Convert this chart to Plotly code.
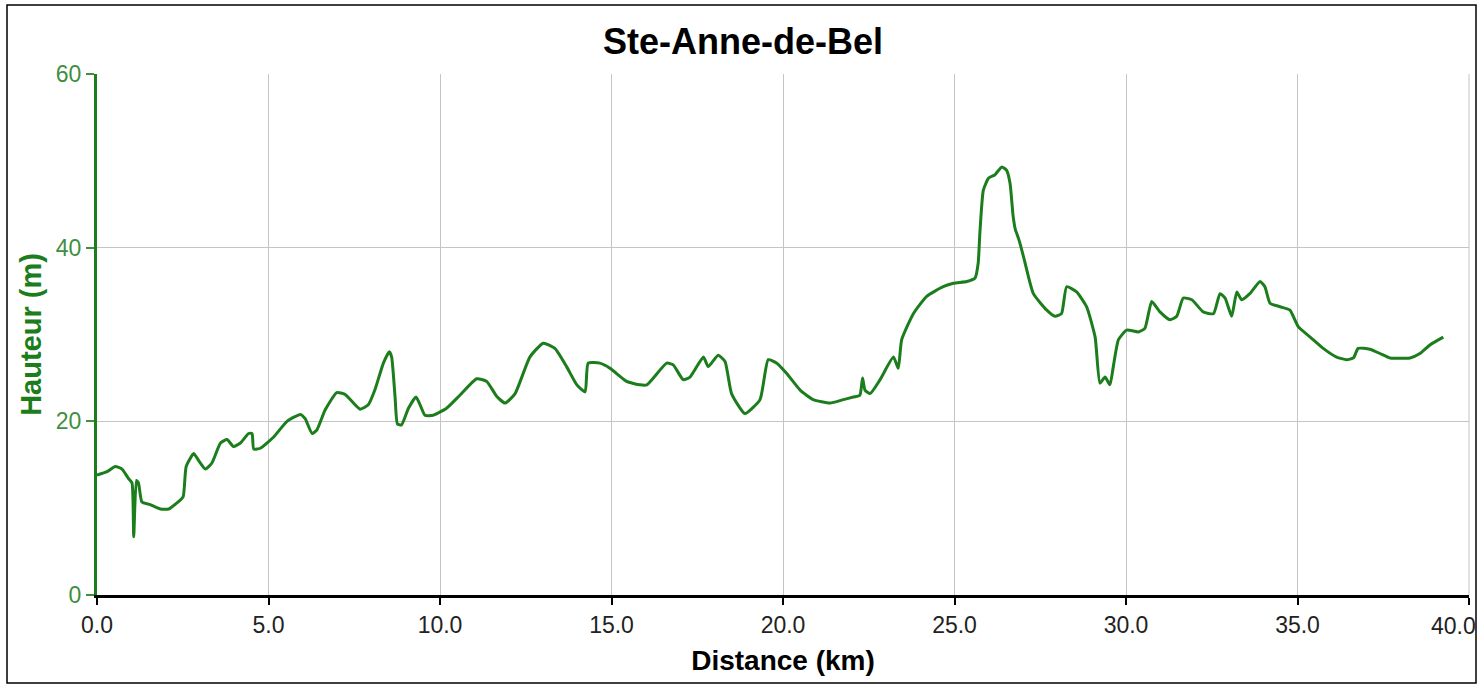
import plotly.graph_objects as go

distance_km = [0.0, 0.29, 0.53, 0.73, 0.92, 1.02, 1.07, 1.15, 1.21, 1.31, 1.55, 1.85, 2.09, 2.33, 2.51,
               2.6, 2.82, 2.96, 3.16, 3.35, 3.6, 3.79, 3.98, 4.18, 4.42, 4.52, 4.57, 4.76, 5.15, 5.54,
               5.93, 6.07, 6.27, 6.41, 6.65, 6.99, 7.23, 7.67, 7.91, 8.1, 8.35, 8.52, 8.59, 8.69,
               8.76, 8.88, 9.08, 9.3, 9.42, 9.56, 9.8, 10.19, 10.58, 11.07, 11.36, 11.65, 11.9,
               12.19, 12.62, 13.01, 13.35, 13.69, 13.99, 14.23, 14.32, 14.66, 14.96, 15.44, 15.83,
               16.03, 16.61, 16.8, 17.09, 17.29, 17.68, 17.82, 18.11, 18.31, 18.5, 18.89, 19.33,
               19.57, 19.82, 20.11, 20.5, 20.88, 21.37, 21.76, 22.05, 22.24, 22.32, 22.39, 22.54,
               22.83, 23.22, 23.36, 23.46, 23.8, 24.19, 24.67, 24.97, 25.36, 25.6, 25.69, 25.74,
               25.84, 25.99, 26.18, 26.38, 26.52, 26.62, 26.71, 26.78, 26.81, 26.91, 27.06, 27.3,
               27.69, 27.93, 28.12, 28.27, 28.56, 28.85, 29.1, 29.24, 29.39, 29.53, 29.63, 29.78,
               30.02, 30.36, 30.55, 30.75, 30.99, 31.28, 31.48, 31.67, 31.92, 32.25, 32.55, 32.74,
               32.89, 33.08, 33.23, 33.37, 33.61, 33.91, 34.05, 34.2, 34.49, 34.78, 35.02, 35.37,
               35.75, 36.14, 36.43, 36.63, 36.77, 37.11, 37.41, 37.7, 38.28, 38.57, 38.86, 39.25]
hauteur_m = [13.8, 14.2, 14.8, 14.5, 13.4, 12.9, 6.7, 13.2, 12.9, 10.7, 10.4, 9.9, 9.9, 10.6, 11.3,
             14.8, 16.3, 15.5, 14.5, 15.2, 17.5, 17.9, 17.1, 17.5, 18.6, 18.6, 16.8, 16.9, 18.2, 20.0,
             20.8, 20.3, 18.6, 19.0, 21.3, 23.3, 23.1, 21.4, 21.9, 23.6, 26.7, 28.0, 27.4, 22.8,
             19.7, 19.6, 21.5, 22.8, 21.9, 20.7, 20.7, 21.5, 23.0, 24.9, 24.6, 22.9, 22.1,
             23.2, 27.4, 29.0, 28.4, 26.3, 24.2, 23.4, 26.7, 26.7, 26.1, 24.6, 24.2,
             24.2, 26.7, 26.5, 24.8, 25.1, 27.4, 26.3, 27.6, 26.9, 23.2, 20.9, 22.5,
             27.1, 26.7, 25.5, 23.6, 22.5, 22.1, 22.5, 22.8, 23.0, 25.0, 23.6, 23.2,
             24.8, 27.4, 26.1, 29.4, 32.4, 34.4, 35.5, 35.9, 36.1, 36.5, 38.2, 41.7,
             46.6, 48.0, 48.4, 49.3, 48.9, 47.4, 43.6, 42.0, 41.7, 40.5, 38.2, 34.7,
             32.8, 32.1, 32.4, 35.5, 34.9, 33.2, 29.7, 24.4, 25.1, 24.2, 26.3, 29.4,
             30.5, 30.3, 30.7, 33.8, 32.6, 31.7, 32.1, 34.2, 34.0, 32.6, 32.4, 34.7,
             34.2, 32.1, 34.9, 34.0, 34.7, 36.1, 35.5, 33.6, 33.2, 32.8, 30.9, 29.7,
             28.4, 27.4, 27.1, 27.3, 28.4, 28.3, 27.8, 27.3, 27.3, 27.8, 28.8, 29.7]

x_ticks = [0, 5, 10, 15, 20, 25, 30, 35, 40]
x_tick_labels = ["0.0", "5.0", "10.0", "15.0", "20.0", "25.0", "30.0", "35.0", "40.0"]
y_ticks = [0, 20, 40, 60]

green = "#1b7d1b"
tick_green = "#3f8f3f"
grid = "#c4c4c4"
tick_font = dict(size=23, color="#222222", family="Liberation Sans, Arial, sans-serif")

fig = go.Figure()
fig.add_trace(go.Scatter(x=distance_km, y=hauteur_m, mode="lines",
                         line=dict(color=green, width=3, shape="spline", smoothing=0.5),
                         showlegend=False, hoverinfo="x+y"))

W, H = 1479, 687
ml, mr, mt, mb = 97, 10, 74, 92
pw = W - ml - mr
ph = H - mt - mb

def px_x(p):
    return (p - ml) / pw

def px_y(p):
    return (H - mb - p) / ph

# the last tick label sits flush against the right edge, as in the reference
shown_text = x_tick_labels[:-1] + [""]

fig.update_layout(
    width=W, height=H,
    margin=dict(l=ml, r=mr, t=mt, b=mb, autoexpand=False),
    paper_bgcolor="white", plot_bgcolor="white",
    font=dict(family="Liberation Sans, Arial, sans-serif", size=16, color="black"),
    title=dict(text="<b>Ste-Anne-de-Bel</b>", x=px_x(743), xanchor="center", xref="paper",
               y=1 - 41 / H, yanchor="middle", font=dict(size=36, color="black")),
    xaxis=dict(range=[0, 40], tickvals=x_ticks, ticktext=shown_text,
               showgrid=True, gridcolor=grid, gridwidth=1,
               showline=True, linecolor="black", linewidth=3,
               ticks="outside", ticklen=7, tickwidth=2, tickcolor="black",
               tickfont=tick_font,
               title=dict(text="<b>Distance (km)</b>", font=dict(size=28, color="black"), standoff=14),
               zeroline=False, fixedrange=True, automargin=False),
    yaxis=dict(range=[0, 60], tickvals=y_ticks,
               showgrid=True, gridcolor=grid, gridwidth=1,
               showline=True, linecolor=green, linewidth=3,
               ticks="outside", ticklen=8, tickwidth=2, tickcolor=tick_green,
               tickfont=dict(size=23, color=tick_green),
               title=dict(text="<b>Hauteur (m)</b>", font=dict(size=29, color=green), standoff=6),
               zeroline=False, fixedrange=True, automargin=False),
    annotations=[dict(text=x_tick_labels[-1], x=x_ticks[-1], xref="x", y=0, yref="paper",
                      xanchor="right", yanchor="top", xshift=W - 1 - (ml + pw), yshift=-16,
                      showarrow=False, font=tick_font)],
    shapes=[dict(type="rect", xref="paper", yref="paper",
                 x0=px_x(7), x1=px_x(1476), y0=px_y(683), y1=px_y(5),
                 line=dict(color="black", width=1.5), fillcolor="rgba(0,0,0,0)", layer="below"),
            dict(type="line", xref="paper", yref="paper",
                 x0=1, x1=1, y0=0, y1=1, line=dict(color=grid, width=1))],
)

fig.write_html("out.html", config={"displayModeBar": False},
               post_script="document.body.style.margin='0';document.body.style.overflow='hidden';")
